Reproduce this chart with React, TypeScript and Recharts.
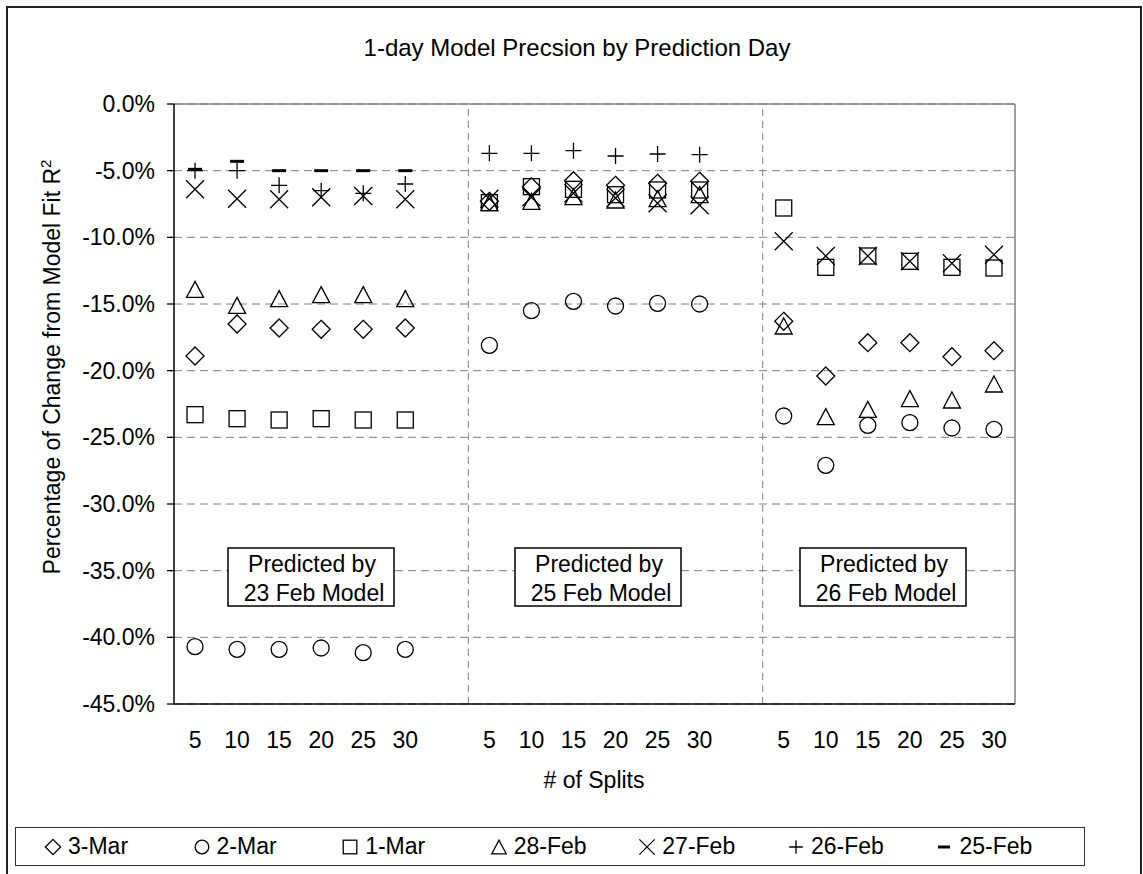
import {
  ComposedChart,
  Line,
  XAxis,
  YAxis,
  CartesianGrid,
  ReferenceLine,
  Legend,
} from "recharts";

const FONT = '"Liberation Sans", Arial, sans-serif';
const GRID = "#808080";

const SPLITS = [5, 10, 15, 20, 25, 30];
const MODELS = ["23 Feb", "25 Feb", "26 Feb"];
const Y_TICKS = [0, -5, -10, -15, -20, -25, -30, -35, -40, -45];

// % change, 6 splits per model: 23 Feb | 25 Feb | 26 Feb
const MAR3 = [
  -18.9, -16.5, -16.8, -16.9, -16.9, -16.8,
  -7.3, -6.2, -5.75, -6.1, -5.95, -5.8,
  -16.3, -20.4, -17.9, -17.9, -18.95, -18.5,
];
const MAR2 = [
  -40.7, -40.9, -40.9, -40.8, -41.15, -40.9,
  -18.1, -15.5, -14.8, -15.15, -14.95, -15.0,
  -23.4, -27.1, -24.1, -23.9, -24.3, -24.4,
];
const MAR1 = [
  -23.3, -23.6, -23.7, -23.6, -23.7, -23.7,
  -7.4, -6.2, -6.4, -6.8, -6.45, -6.45,
  -7.8, -12.25, -11.4, -11.8, -12.25, -12.3,
];
const FEB28 = [
  -13.9, -15.1, -14.6, -14.3, -14.3, -14.6,
  -7.4, -7.3, -6.95, -7.2, -7.1, -6.8,
  -16.65, -23.45, -22.9, -22.1, -22.2, -21.0,
];
const FEB27 = [
  -6.4, -7.1, -7.15, -7.0, -6.9, -7.15,
  -7.1, -7.0, -6.7, -7.05, -7.45, -7.6,
  -10.3, -11.4, -11.4, -11.8, -11.95, -11.3,
];
const FEB26 = [
  -5.0, -5.0, -6.1, -6.5, -6.7, -6.0,
  -3.7, -3.7, -3.5, -3.9, -3.75, -3.8,
  null, null, null, null, null, null,
];
const FEB25 = [
  -4.9, -4.3, -5.0, -5.0, -5.0, -5.0,
  null, null, null, null, null, null,
  null, null, null, null, null, null,
];

const SERIES = [
  { key: "mar3", name: "3-Mar", shape: "diamond", values: MAR3 },
  { key: "mar2", name: "2-Mar", shape: "circle", values: MAR2 },
  { key: "mar1", name: "1-Mar", shape: "square", values: MAR1 },
  { key: "feb28", name: "28-Feb", shape: "triangle", values: FEB28 },
  { key: "feb27", name: "27-Feb", shape: "cross", values: FEB27 },
  { key: "feb26", name: "26-Feb", shape: "plus", values: FEB26 },
  { key: "feb25", name: "25-Feb", shape: "dash", values: FEB25 },
];

// each model group takes 7 slots on the x scale (6 splits + a gap)
const data = MODELS.flatMap((_, g) =>
  SPLITS.map((split, i) => {
    const row: any = { pos: g * 7 + i, split };
    SERIES.forEach((s) => (row[s.key] = s.values[g * 6 + i]));
    return row;
  })
);
const POSITIONS = data.map((d) => d.pos);

function Marker({ shape, cx, cy, k = 1 }: any) {
  const p = { fill: "none", stroke: "#000", strokeWidth: 1.3 };
  switch (shape) {
    case "diamond": {
      const h = 9 * k;
      return <path {...p} d={`M${cx},${cy - h}L${cx + h},${cy}L${cx},${cy + h}L${cx - h},${cy}Z`} />;
    }
    case "circle":
      return <circle {...p} cx={cx} cy={cy} r={8 * k} />;
    case "square":
      return <rect {...p} x={cx - 8 * k} y={cy - 8 * k} width={16 * k} height={16 * k} />;
    case "triangle": {
      const w = 8.5 * k;
      const h = 8 * k;
      return <path {...p} d={`M${cx},${cy - h}L${cx + w},${cy + h}L${cx - w},${cy + h}Z`} />;
    }
    case "cross": {
      const h = 9 * k;
      return <path {...p} d={`M${cx - h},${cy - h}L${cx + h},${cy + h}M${cx + h},${cy - h}L${cx - h},${cy + h}`} />;
    }
    case "plus": {
      const h = 8 * k;
      return <path {...p} d={`M${cx - h},${cy}L${cx + h},${cy}M${cx},${cy - h}L${cx},${cy + h}`} />;
    }
    case "dash": {
      const h = 7 * k;
      return <path {...p} strokeWidth={3} d={`M${cx - h},${cy}L${cx + h},${cy}`} />;
    }
  }
  return null;
}

const dotFor = (shape: string) => (props: any) => {
  const { cx, cy, index, value } = props;
  if (value == null || cy == null || isNaN(cy)) return <g key={`${shape}-${index}`} />;
  return (
    <g key={`${shape}-${index}`}>
      <Marker shape={shape} cx={cx} cy={cy} />
    </g>
  );
};

const SplitTick = ({ x, y, payload }: any) => (
  <text x={x} y={y + 42} textAnchor="middle" fontSize={23} fontFamily={FONT} fill="#000">
    {SPLITS[payload.value % 7]}
  </text>
);

function LegendBox({ payload }: any) {
  // keep the series order (recharts sorts the payload by name)
  const items = SERIES.map((s) => ({
    s,
    entry: (payload || []).find((e: any) => e.dataKey === s.key),
  })).filter((d) => d.entry);
  return (
    <div
      style={{
        boxSizing: "border-box",
        width: "100%",
        height: "100%",
        border: "1.5px solid #333",
        background: "#fff",
        display: "flex",
        alignItems: "center",
        paddingLeft: 28,
        fontFamily: FONT,
        fontSize: 23,
        color: "#000",
      }}
    >
      {items.map(({ s, entry }) => (
        <div key={s.key} style={{ width: 151, display: "flex", alignItems: "center" }}>
          <svg width={18} height={18} style={{ marginRight: 6 }}>
            <Marker shape={s.shape} cx={9} cy={9} k={0.85} />
          </svg>
          <span>{entry.value}</span>
        </div>
      ))}
    </div>
  );
}

const BOXES = [228, 515, 800];

export default function App() {
  return (
    <div style={{ position: "absolute", left: 0, top: 0, width: 1143, height: 874, background: "#fff" }}>
      <ComposedChart
        width={1143}
        height={874}
        data={data}
        margin={{ top: 104, right: 128, bottom: 110, left: 0 }}
      >
        <CartesianGrid xAxisId="lab" vertical={false} stroke={GRID} strokeDasharray="8 5" />
        <XAxis
          xAxisId="lab"
          type="number"
          dataKey="pos"
          domain={[-0.5, 19.5]}
          ticks={POSITIONS}
          interval={0}
          height={60}
          tickSize={0}
          tickLine={false}
          tick={<SplitTick />}
          axisLine={{ stroke: "#000", strokeWidth: 1.5 }}
        />
        <XAxis
          xAxisId="sep"
          type="number"
          domain={[-0.5, 19.5]}
          ticks={[-0.5, 6.5, 13.5]}
          height={0}
          tickSize={7}
          axisLine={false}
          tickLine={{ stroke: "#000", strokeWidth: 1.3 }}
          tickFormatter={() => ""}
        />
        <YAxis
          type="number"
          domain={[-45, 0]}
          ticks={Y_TICKS}
          interval={0}
          width={174}
          tickSize={7}
          tickMargin={12}
          tickFormatter={(v: number) => `${v.toFixed(1)}%`}
          tick={{ fill: "#000", fontSize: 23, fontFamily: FONT }}
          tickLine={{ stroke: "#000", strokeWidth: 1.3 }}
          axisLine={{ stroke: "#000", strokeWidth: 1.5 }}
        />
        <ReferenceLine xAxisId="lab" y={0} stroke={GRID} strokeWidth={1.5} />
        <ReferenceLine xAxisId="lab" x={19.5} stroke={GRID} strokeWidth={1.5} />
        <ReferenceLine xAxisId="lab" x={6.5} stroke={GRID} strokeDasharray="7 5" />
        <ReferenceLine xAxisId="lab" x={13.5} stroke={GRID} strokeDasharray="7 5" />
        {SERIES.map((s) => (
          <Line
            key={s.key}
            xAxisId="lab"
            dataKey={s.key}
            name={s.name}
            stroke="none"
            dot={dotFor(s.shape)}
            activeDot={false}
            isAnimationActive={false}
          />
        ))}
        <Legend
          layout="horizontal"
          align="center"
          verticalAlign="middle"
          content={<LegendBox />}
          wrapperStyle={{ left: 15, top: 827, width: 1070, height: 39 }}
        />
      </ComposedChart>
      <svg
        width={1143}
        height={874}
        style={{ position: "absolute", left: 0, top: 0, pointerEvents: "none" }}
        fontFamily={FONT}
      >
        <rect x={7} y={7} width={1134} height={900} fill="none" stroke="#222" strokeWidth={2} />
        <text x={577} y={56} textAnchor="middle" fontSize={24} fill="#000">
          1-day Model Precsion by Prediction Day
        </text>
        <text x={594} y={788} textAnchor="middle" fontSize={23} fill="#000">
          # of Splits
        </text>
        <text transform="translate(60,367) rotate(-90)" textAnchor="middle" fontSize={23} fill="#000">
          Percentage of Change from Model Fit R<tspan dy={-9} fontSize={15}>2</tspan>
        </text>
        {BOXES.map((bx, g) => (
          <g key={g}>
            <rect x={bx} y={548} width={166} height={58} fill="#fff" stroke="#000" strokeWidth={1.5} />
            <text x={bx + 84} y={572} textAnchor="middle" fontSize={23} fill="#000">
              Predicted by
            </text>
            <text x={bx + 86} y={601} textAnchor="middle" fontSize={23} fill="#000">
              {MODELS[g]} Model
            </text>
          </g>
        ))}
      </svg>
    </div>
  );
}
